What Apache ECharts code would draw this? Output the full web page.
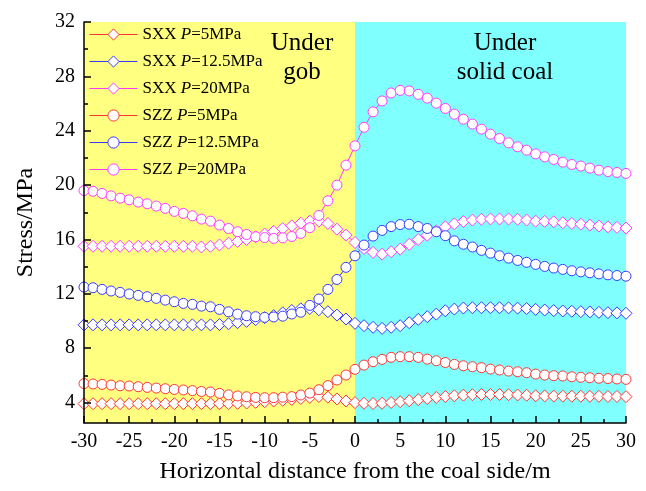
<!DOCTYPE html>
<html>
<head>
<meta charset="utf-8">
<script src="https://cdn.jsdelivr.net/npm/echarts@6/dist/echarts.min.js"></script>
<style>
  html, body { margin: 0; padding: 0; background: #fff; }
  #chart { width: 646px; height: 491px; }
</style>
</head>
<body>
<div id="chart"></div>
<script>
// x positions -30 .. 30, one point per metre
const xValues = [-30,-29,-28,-27,-26,-25,-24,-23,-22,-21,-20,-19,-18,-17,-16,-15,-14,-13,-12,-11,-10,-9,-8,-7,-6,-5,-4,-3,-2,-1,
  0,1,2,3,4,5,6,7,8,9,10,11,12,13,14,15,16,17,18,19,20,21,22,23,24,25,26,27,28,29,30];

const sxx5 = [3.92,3.92,3.92,3.92,3.92,3.92,3.92,3.92,3.92,3.92,3.92,3.92,3.92,3.92,3.92,3.92,3.92,3.95,3.97,4.02,4.07,4.12,4.17,4.23,4.3,4.38,4.45,4.4,4.27,4.12,
  4.0,3.95,3.93,3.95,4.01,4.07,4.14,4.22,4.3,4.38,4.45,4.5,4.55,4.58,4.6,4.6,4.6,4.58,4.56,4.54,4.5,4.49,4.48,4.48,4.47,4.47,4.46,4.46,4.45,4.45,4.44];

const sxx12 = [9.72,9.72,9.72,9.72,9.72,9.72,9.72,9.72,9.72,9.72,9.72,9.72,9.72,9.72,9.72,9.74,9.8,9.88,9.98,10.1,10.25,10.4,10.6,10.78,10.9,10.92,10.83,10.69,10.44,10.15,
  9.83,9.66,9.54,9.46,9.54,9.66,9.88,10.12,10.32,10.51,10.76,10.88,10.96,10.98,10.98,10.98,10.98,10.97,10.95,10.92,10.86,10.81,10.77,10.74,10.72,10.69,10.67,10.64,10.62,10.6,10.57];

const sxx20 = [15.5,15.5,15.5,15.5,15.5,15.5,15.5,15.5,15.5,15.5,15.5,15.5,15.5,15.45,15.5,15.6,15.73,15.86,16.0,16.2,16.4,16.6,16.8,17.0,17.2,17.35,17.35,17.18,16.76,16.32,
  15.78,15.34,15.05,14.92,15.1,15.29,15.64,16.0,16.32,16.64,16.93,17.15,17.32,17.43,17.49,17.51,17.51,17.51,17.49,17.43,17.35,17.33,17.3,17.23,17.18,17.13,17.06,16.99,16.93,16.89,16.84];

const szz5 = [5.4,5.37,5.34,5.29,5.24,5.22,5.17,5.12,5.07,5.02,4.97,4.93,4.88,4.82,4.78,4.68,4.57,4.49,4.43,4.38,4.36,4.36,4.4,4.44,4.56,4.7,4.95,5.25,5.66,6.03,
  6.45,6.76,7.01,7.18,7.33,7.38,7.38,7.33,7.2,7.08,6.95,6.81,6.71,6.64,6.57,6.47,6.4,6.32,6.27,6.2,6.1,6.03,5.98,5.96,5.9,5.86,5.83,5.79,5.77,5.74,5.71];

const szz12 = [12.5,12.45,12.33,12.21,12.11,11.99,11.89,11.79,11.67,11.54,11.42,11.3,11.23,11.1,11.05,10.86,10.68,10.51,10.39,10.32,10.27,10.3,10.36,10.52,10.65,11.15,11.62,12.33,13.06,13.95,
  14.8,15.59,16.25,16.67,16.95,17.1,17.12,16.95,16.81,16.57,16.28,15.9,15.65,15.45,15.2,15.0,14.8,14.63,14.46,14.32,14.17,14.02,13.9,13.8,13.7,13.62,13.55,13.47,13.4,13.35,13.3];

const szz20 = [19.6,19.55,19.39,19.21,19.04,18.92,18.75,18.63,18.46,18.29,18.07,17.92,17.74,17.5,17.35,17.06,16.81,16.57,16.37,16.2,16.14,16.08,16.12,16.22,16.45,16.87,17.77,18.85,20.0,21.47,
  22.89,24.25,25.39,26.19,26.78,26.97,26.93,26.68,26.4,26.03,25.64,25.22,24.85,24.49,24.12,23.75,23.43,23.11,22.82,22.57,22.3,22.08,21.89,21.69,21.52,21.4,21.25,21.1,21.0,20.93,20.86];

const yMajorTicks = [4, 8, 12, 16, 20, 24, 28, 32];
const yMinorTicks = [6, 10, 14, 18, 22, 26, 30];

const seriesNames = ["SXX P=5MPa", "SXX P=12.5MPa", "SXX P=20MPa", "SZZ P=5MPa", "SZZ P=12.5MPa", "SZZ P=20MPa"];
const seriesData = [sxx5, sxx12, sxx20, szz5, szz12, szz20];
const seriesColors = ["#ff3535", "#3a3aff", "#ff3cff", "#ff3535", "#3a3aff", "#ff3cff"];
const seriesSymbols = ["diamond", "diamond", "diamond", "circle", "circle", "circle"];

const serif = '"Liberation Serif", "Times New Roman", serif';

function pairs(ys) {
  return xValues.map((x, i) => [x, ys[i]]);
}

let series = seriesNames.map((name, i) => ({
  name: name,
  type: "line",
  z: 3,
  data: pairs(seriesData[i]),
  symbol: seriesSymbols[i],
  symbolSize: seriesSymbols[i] === "circle" ? 10 : 12,
  showAllSymbol: true,
  lineStyle: { color: seriesColors[i], width: 1 },
  itemStyle: { color: "#fff", borderColor: seriesColors[i], borderWidth: 1 },
  emphasis: { disabled: true },
  animation: false
}));

// background regions: under gob / under solid coal
series.unshift({
  type: "line",
  z: 1,
  data: [],
  silent: true,
  markArea: {
    silent: true,
    data: [
      [{ xAxis: -30, itemStyle: { color: "#ffff80" } }, { xAxis: 0 }],
      [{ xAxis: 0, itemStyle: { color: "#80ffff" } }, { xAxis: 30 }]
    ]
  }
});

// legend entries: thin line, outlined marker
let legendData = seriesNames.map((name, i) => ({
  name: name,
  lineStyle: { color: seriesColors[i], width: 1 },
  itemStyle: { color: "#fff", borderColor: seriesColors[i], borderWidth: 1 }
}));

let option = {
  animation: false,
  grid: { left: 84, right: 20, top: 22, bottom: 68 },
  legend: {
    data: legendData,
    orient: "vertical",
    left: 89,
    top: 26,
    padding: 0,
    itemWidth: 48,
    itemHeight: 14,
    itemGap: 10,
    selectedMode: false,
    formatter: function (name) {
      let idx = name.indexOf(" P=");
      return "{n|" + name.slice(0, idx + 1) + "}{i|P}{n|" + name.slice(idx + 2) + "}";
    },
    textStyle: {
      rich: {
        n: { fontFamily: serif, fontSize: 17, color: "#000" },
        i: { fontFamily: serif, fontSize: 17, color: "#000", fontStyle: "italic" }
      }
    }
  },
  xAxis: {
    type: "value",
    min: -30,
    max: 30,
    interval: 5,
    z: 5,
    name: "Horizontal distance from the coal side/m",
    nameLocation: "middle",
    nameGap: 37,
    nameTextStyle: { fontFamily: serif, fontSize: 24, color: "#000" },
    axisLine: { show: true, onZero: false, lineStyle: { color: "#000", width: 1.5 } },
    axisTick: { show: true, inside: true, length: 7, lineStyle: { color: "#000", width: 1.5 } },
    minorTick: { show: true, splitNumber: 2, length: 4, lineStyle: { color: "#000", width: 1.5 } },
    axisLabel: { fontFamily: serif, fontSize: 20, color: "#000", margin: 9 },
    splitLine: { show: false }
  },
  yAxis: [
    {
      type: "value",
      min: 2.5,
      max: 32,
      z: 5,
      name: "Stress/MPa",
      nameLocation: "middle",
      nameGap: 46,
      nameTextStyle: { fontFamily: serif, fontSize: 24, color: "#000" },
      axisLine: { show: true, onZero: false, lineStyle: { color: "#000", width: 1.5 } },
      axisTick: { show: true, inside: true, length: 7, customValues: yMajorTicks, lineStyle: { color: "#000", width: 1.5 } },
      axisLabel: { fontFamily: serif, fontSize: 20, color: "#000", margin: 9, customValues: yMajorTicks },
      splitLine: { show: false }
    },
    {
      type: "value",
      min: 2.5,
      max: 32,
      z: 5,
      position: "left",
      axisLine: { show: false, onZero: false },
      axisTick: { show: true, inside: true, length: 4, customValues: yMinorTicks, lineStyle: { color: "#000", width: 1.5 } },
      axisLabel: { show: false },
      splitLine: { show: false }
    }
  ],
  graphic: [
    {
      type: "text", x: 302, y: 29, z: 10,
      style: { text: "Under\ngob", font: "25px " + serif, fill: "#000", align: "center", verticalAlign: "top", lineHeight: 29 }
    },
    {
      type: "text", x: 505, y: 29, z: 10,
      style: { text: "Under\nsolid coal", font: "25px " + serif, fill: "#000", align: "center", verticalAlign: "top", lineHeight: 29 }
    }
  ],
  series: series
};

let chart = echarts.init(document.getElementById("chart"), null, { renderer: "canvas" });
chart.setOption(option);
</script>
</body>
</html>
